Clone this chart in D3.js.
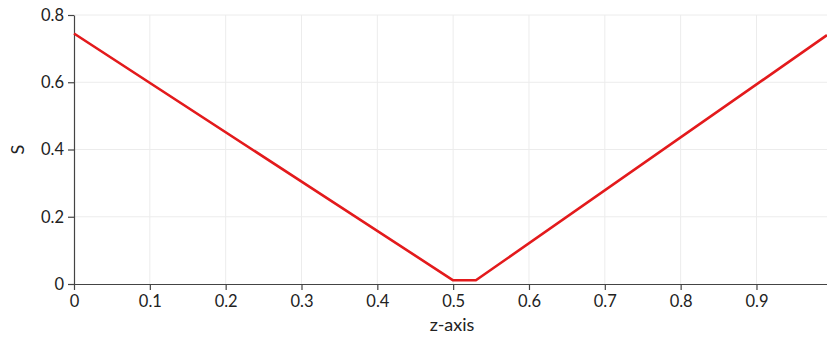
<!DOCTYPE html>
<html><head><meta charset="utf-8">
<script src="https://cdn.jsdelivr.net/npm/d3@7"></script>
<style>
body{margin:0;background:#fff;}
svg text{font-family:Lato,"DejaVu Sans",sans-serif;fill:#222;}
</style></head>
<body><svg id="c" width="827" height="340"></svg>
<script>
const zValues = [0, 0.5, 0.53, 0.993];
const sValues = [0.745, 0.011, 0.011, 0.74];
const xTicks = [0, 0.1, 0.2, 0.3, 0.4, 0.5, 0.6, 0.7, 0.8, 0.9];
const yTicks = [0, 0.2, 0.4, 0.6, 0.8];
const xLabel = "z-axis";
const yLabel = "S";

const svg = d3.select("#c");
const m = {l:74, r:0, t:15, b:56};
const W = 827, H = 340;
const x = d3.scaleLinear().domain([0, 0.993]).range([m.l, W - m.r]);
const y = d3.scaleLinear().domain([0, 0.8]).range([H - m.b, m.t]);

// grid
svg.append("g").selectAll("line").data(xTicks.slice(1)).join("line")
  .attr("x1", d=>x(d)).attr("x2", d=>x(d)).attr("y1", y(0)).attr("y2", y(0.8))
  .attr("stroke", "#ececec").attr("stroke-width", 1);
svg.append("g").selectAll("line").data(yTicks.slice(1)).join("line")
  .attr("x1", x(0)).attr("x2", W).attr("y1", d=>y(d)).attr("y2", d=>y(d))
  .attr("stroke", "#ececec").attr("stroke-width", 1);

const fmt = d => d === 0 ? "0" : d3.format(".1f")(d);
const xa = svg.append("g").attr("transform", `translate(0,${y(0)})`)
  .call(d3.axisBottom(x).tickValues(xTicks).tickFormat(fmt).tickSize(6).tickSizeOuter(0));
const ya = svg.append("g").attr("transform", `translate(${x(0)},0)`)
  .call(d3.axisLeft(y).tickValues(yTicks).tickFormat(fmt).tickSize(6).tickSizeOuter(0));
[xa, ya].forEach(a => {
  a.select(".domain").attr("stroke", "#444").attr("stroke-width", 1.2);
  a.selectAll(".tick line").attr("stroke", "#444").attr("stroke-width", 1.2);
  a.selectAll(".tick text").style("font-size", "16.5px").attr("fill", "#2a2a2a");
});
xa.selectAll(".tick text").attr("dy", "0.95em").attr("y", 7);
ya.selectAll(".tick text").attr("x", -10);

// line
const line = d3.line().x((d,i)=>x(zValues[i])).y(d=>y(d));
svg.append("path").datum(sValues).attr("d", line)
  .attr("fill", "none").attr("stroke", "#e31a1c").attr("stroke-width", 2.6)
  .attr("stroke-linejoin", "round");

svg.append("text").attr("x", 452).attr("y", 331).attr("text-anchor", "middle")
  .style("font-size", "18px").text(xLabel);
svg.append("text").attr("transform", `translate(24,${(y(0)+y(0.8))/2}) rotate(-90)`)
  .attr("text-anchor", "middle").style("font-size", "18px").text(yLabel);
</script></body></html>
